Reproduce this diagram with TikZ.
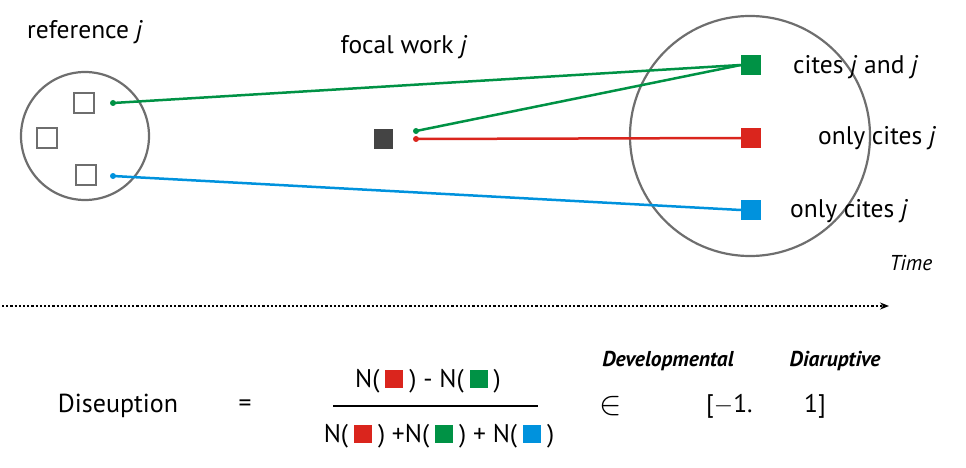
\documentclass[tikz,border=0pt]{standalone}
\usepackage{fontspec}
\setmainfont{PT Sans}
\usepackage{tikz}
\usetikzlibrary{arrows.meta}
\definecolor{citegreen}{RGB}{0,146,69}
\definecolor{citered}{RGB}{218,37,29}
\definecolor{citeblue}{RGB}{0,146,221}
\definecolor{ringgray}{RGB}{110,110,110}
\definecolor{focalgray}{RGB}{68,68,68}
\tikzset{>=Stealth}
\tikzset{%
    refbox/.style={draw=ringgray, line width=2.2pt, minimum size=20pt, inner sep=0pt},
    citebox/.style={fill=#1, minimum size=20pt, inner sep=0pt},
    ring/.style={draw=ringgray, line width=2.2pt},
    link/.style={draw=#1, line width=2.5pt},
    label/.style={font=\fontsize{25.5}{30}\selectfont, inner sep=0pt},
    tag/.style={font=\fontsize{21.5}{25}\selectfont\bfseries\itshape, inner sep=0pt}
}
\newcommand{\csq}[1]{\hspace{6pt}{\color{#1}\rule[-0.5pt]{18pt}{18pt}}\hspace{6pt}}

\begin{document}
\begin{tikzpicture}[x=1pt,y=-1pt]
\useasboundingbox (0,0) rectangle (966,468);
% reference set
\draw[ring] (85,136) circle (64);
\node[refbox] (r1) at (84,103) {};
\node[refbox] (r2) at (47,138) {};
\node[refbox] (r3) at (86,175) {};
\coordinate (rg) at (113,103);
\coordinate (rb) at (113,176);
\node[label] (reftxt) at (85,32) {reference \textit{j}};
% focal work
\node[fill=focalgray, minimum size=19pt, inner sep=0pt] (focal) at (383,139) {};
\coordinate (fg) at (416,131);
\coordinate (fr) at (416,139);
\node[label] (focaltxt) at (404,47) {focal work \textit{j}};
% citing works
\draw[ring] (750,136) circle (120);
\node[citebox=citegreen] (cg) at (751,65) {};
\node[citebox=citered] (cr) at (751,138) {};
\node[citebox=citeblue] (cb) at (751,210) {};
\draw[link=citegreen] (rg) -- (cg.west);
\draw[link=citegreen] (fg) -- (cg.west);
\draw[link=citered] (fr) -- (cr.west);
\draw[link=citeblue] (rb) -- (cb.west);
\foreach \p/\c in {rg/citegreen,rb/citeblue,fg/citegreen,fr/citered}
    \fill[\c] (\p) circle (3);
\node[label, anchor=west] (lg) at (793,67) {cites \textit{j} and \textit{j}};
\node[label, anchor=west] (lr) at (818,138) {only cites \textit{j}};
\node[label, anchor=west] (lb) at (790,211) {only cites \textit{j}};
% time axis
\node[font=\fontsize{21.5}{25}\selectfont\itshape, inner sep=0pt] (time) at (911,263) {Time};
\coordinate (t0) at (2,306);
\coordinate (t1) at (889,306);
\draw[line width=2.2pt, dotted, -{Stealth[length=9pt,width=7pt]}] (t0) -- (t1);
% disruption index
\node[font=\fontsize{26}{30}\selectfont, inner sep=0pt] (dis) at (118,406) {Diseuption};
\node[label] (eq) at (245,406) {=};
\node[label] (num) at (428,381) {N(\csq{citered}) - N(\csq{citegreen})};
\node[label] (den) at (439,436) {N(\csq{citered}) +N(\csq{citegreen}) + N(\csq{citeblue})};
\draw[line width=2pt] (333,406) -- (538,406);
\node[label, scale=1.35] (in) at (611,406) {$\in$};
\node[label, anchor=west] (lo) at (706,406) {[$-$1.};
\node[label, anchor=west] (hi) at (804,406) {1]};
\node[tag] (dev) at (668,361) {Developmental};
\node[tag] (dsr) at (835,361) {Diaruptive};
\end{tikzpicture}
\end{document}
